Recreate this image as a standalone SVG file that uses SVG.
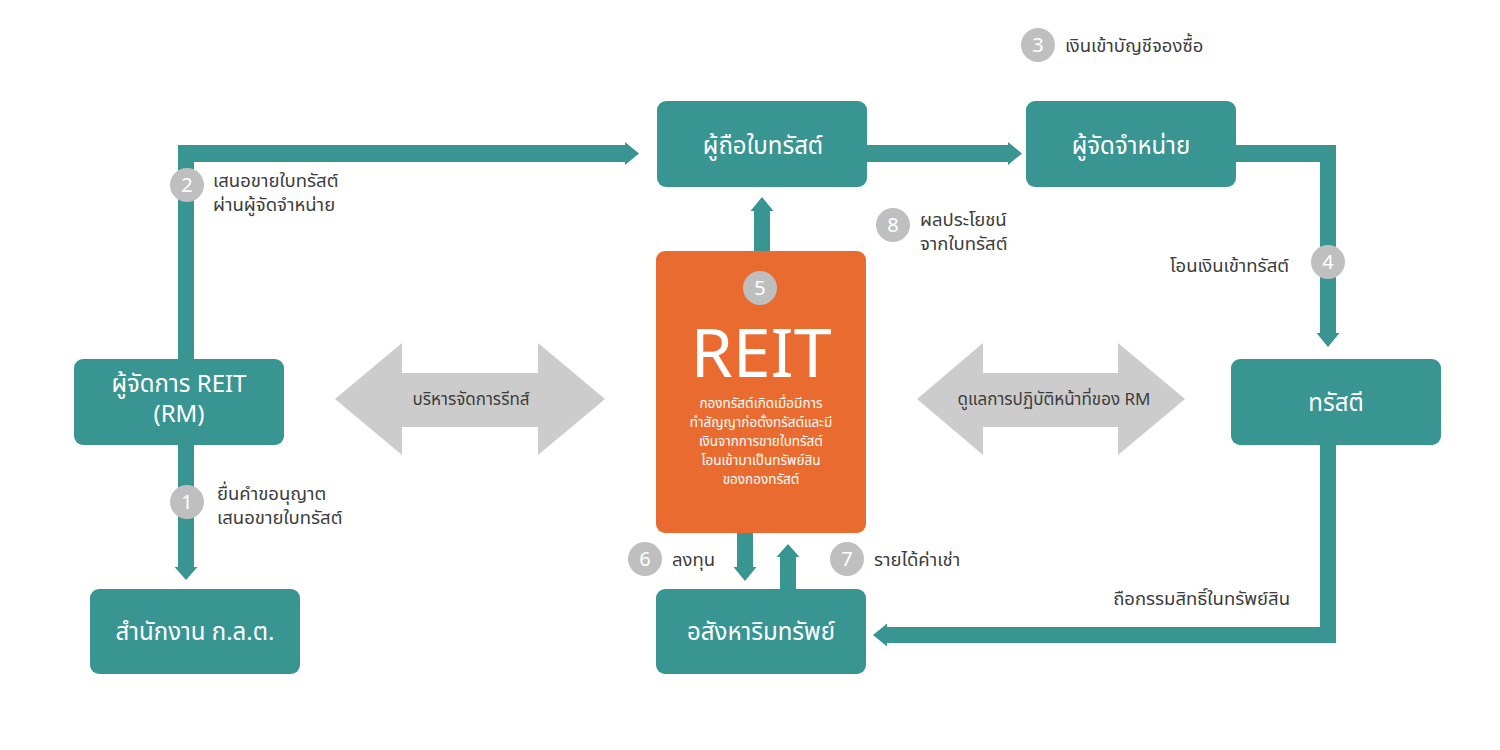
<svg xmlns="http://www.w3.org/2000/svg" width="1500" height="750" viewBox="0 0 1500 750">
<style>
text{font-family:"Noto Sans Thai","Noto Sans","DejaVu Sans",sans-serif}
.node{fill:#389592}
.nt{fill:#ffffff;font-size:24px;text-anchor:middle}
.lbl{fill:#3d3d3d;font-size:18.5px}
.num circle{fill:#bfbfbf}
.num text{fill:#ffffff;font-size:20px;text-anchor:middle}
.conn{fill:#389592}
.dbl{fill:#cccccc}
.dt{fill:#3d3d3d;font-size:17px;text-anchor:middle}
</style>
<rect width="1500" height="750" fill="#ffffff"/>
<g id="connectors">
<path class="conn" d="M178,359 V145 H625 V142 L639,153.5 L625,165 V162 H194 V359 Z"/>
<path class="conn" d="M866,145 H1008 V142 L1022,153.5 L1008,165 V162 H866 Z"/>
<path class="conn" d="M1236,145 H1336 V333 H1339.5 L1328,347 L1316.5,333 H1320 V162 H1236 Z"/>
<path class="conn" d="M754,251 V211 H750.5 L762,197 L773.5,211 H770 V251 Z"/>
<path class="conn" d="M178,444 V567 H174.5 L186,580 L197.5,567 H194 V444 Z"/>
<path class="conn" d="M737,532 V567 H733.5 L745,581 L756.5,567 H753 V532 Z"/>
<path class="conn" d="M780,589 V557 H776.5 L788,544 L799.5,557 H796 V589 Z"/>
<path class="conn" d="M1320,444 V627 H887 V623.5 L873,635 L887,646.5 V643 H1336 V444 Z"/>
</g>
<g id="risk-arrow">
<polygon class="dbl" points="335,399 402,343 402,373 538,373 538,343 605,399 538,455 538,427 402,427 402,455"/>
<text class="dt" x="471" y="405">บริหารจัดการรีทส์</text>
</g>
<g id="oversee-arrow">
<polygon class="dbl" points="917,399 983,343 983,373 1118,373 1118,343 1185,399 1118,455 1118,427 983,427 983,455"/>
<text class="dt" x="1054" y="405">ดูแลการปฏิบัติหน้าที่ของ RM</text>
</g>
<g id="unitholder">
<rect class="node" x="657" y="101" width="210" height="86" rx="9"/>
<text class="nt" x="763" y="154">ผู้ถือใบทรัสต์</text>
</g>
<g id="distributor">
<rect class="node" x="1026" y="101" width="210" height="86" rx="9"/>
<text class="nt" x="1131" y="154">ผู้จัดจำหน่าย</text>
</g>
<g id="reit">
<rect x="656" y="251" width="210" height="282" rx="9" fill="#ea6b2f"/>
<text x="761" y="377" fill="#ffffff" font-size="68" text-anchor="middle" style="font-family:'Noto Sans','DejaVu Sans',sans-serif">REIT</text>
<text fill="#ffffff" font-size="13.5" text-anchor="middle"><tspan x="761" y="408">กองทรัสต์เกิดเมื่อมีการ</tspan><tspan x="761" y="427">ทำสัญญาก่อตั้งทรัสต์และมี</tspan><tspan x="761" y="446">เงินจากการขายใบทรัสต์</tspan><tspan x="761" y="465">โอนเข้ามาเป็นทรัพย์สิน</tspan><tspan x="761" y="484">ของกองทรัสต์</tspan></text>
</g>
<g id="rm">
<rect class="node" x="74" y="359" width="210" height="86" rx="9"/>
<text class="nt"><tspan x="179" y="392">ผู้จัดการ REIT</tspan><tspan x="179" y="422">(RM)</tspan></text>
</g>
<g id="trustee">
<rect class="node" x="1231" y="359" width="210" height="86" rx="9"/>
<text class="nt" x="1336" y="411">ทรัสตี</text>
</g>
<g id="sec">
<rect class="node" x="90" y="589" width="210" height="85" rx="9"/>
<text class="nt" x="195" y="640">สำนักงาน ก.ล.ต.</text>
</g>
<g id="property">
<rect class="node" x="656" y="589" width="210" height="85" rx="9"/>
<text class="nt" x="761" y="640">อสังหาริมทรัพย์</text>
</g>
<g id="step1" class="num"><circle cx="187" cy="502" r="17"/><text x="187" y="509">1</text></g>
<g id="step2" class="num"><circle cx="187" cy="185" r="17"/><text x="187" y="192">2</text></g>
<g id="step3" class="num"><circle cx="1038" cy="45" r="17"/><text x="1038" y="52">3</text></g>
<g id="step4" class="num"><circle cx="1328" cy="262" r="17"/><text x="1328" y="269">4</text></g>
<g id="step5" class="num"><circle cx="760" cy="288" r="17"/><text x="760" y="295">5</text></g>
<g id="step6" class="num"><circle cx="645" cy="559" r="17"/><text x="645" y="566">6</text></g>
<g id="step7" class="num"><circle cx="847" cy="559" r="17"/><text x="847" y="566">7</text></g>
<g id="step8" class="num"><circle cx="893" cy="225" r="17"/><text x="893" y="232">8</text></g>
<g id="labels">
<text class="lbl"><tspan x="217" y="500">ยื่นคำขอนุญาต</tspan><tspan x="217" y="524">เสนอขายใบทรัสต์</tspan></text>
<text class="lbl"><tspan x="213" y="187">เสนอขายใบทรัสต์</tspan><tspan x="213" y="211">ผ่านผู้จัดจำหน่าย</tspan></text>
<text class="lbl" x="1065" y="52">เงินเข้าบัญชีจองซื้อ</text>
<text class="lbl" x="1289" y="272" text-anchor="end">โอนเงินเข้าทรัสต์</text>
<text class="lbl" x="672" y="566">ลงทุน</text>
<text class="lbl" x="874" y="566">รายได้ค่าเช่า</text>
<text class="lbl"><tspan x="920" y="226">ผลประโยชน์</tspan><tspan x="920" y="250">จากใบทรัสต์</tspan></text>
<text class="lbl" x="1290" y="605" text-anchor="end">ถือกรรมสิทธิ์ในทรัพย์สิน</text>
</g>
</svg>
